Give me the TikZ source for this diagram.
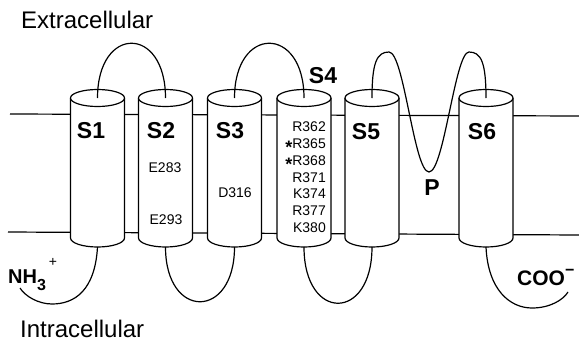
\documentclass[tikz,border=0pt]{standalone}
\usepackage{fontspec}
\setmainfont{Liberation Sans}
\newcommand\tmcyl[2]{%
  \coordinate (#1top) at (#2,98);
  \coordinate (#1bot) at (#2,247);
  \filldraw[cylline] (#2-27,98) -- (#2-27,238) arc[start angle=180, end angle=0, x radius=27, y radius=9] -- (#2+27,98);
  \filldraw[cylline] (#2,98) ellipse[x radius=27, y radius=8.5];
}
\newcommand\resstar{\raisebox{-5.5pt}{\fontsize{18}{18}\selectfont\bfseries *}}
\begin{document}
\begin{tikzpicture}[x=1pt,y=-1pt,
  memline/.style={line width=1.2pt},
  loopline/.style={line width=1.2pt},
  cylline/.style={line width=1.2pt, fill=white},
  seglabel/.style={font=\fontsize{23}{23}\selectfont\bfseries, anchor=base, inner sep=0pt},
  reslabel/.style={font=\fontsize{14}{14}\selectfont, anchor=base, inner sep=0pt},
  rlabel/.style={font=\fontsize{14}{14}\selectfont, anchor=base east, inner sep=0pt},
  sidelabel/.style={font=\fontsize{24}{24}\selectfont, anchor=base west, inner sep=0pt},
  termlabel/.style={font=\bfseries, anchor=base west, inner sep=0pt}]
\useasboundingbox (0,0) rectangle (579,343);
% membrane
\coordinate (mtl) at (10,114);
\coordinate (mtr) at (579,116);
\coordinate (mbl) at (8,232);
\coordinate (mbr) at (579,235);
\draw[memline] (mtl) -- (mtr);
\draw[memline] (mbl) -- (mbr);
% cylinders
\tmcyl{s1}{97.5}
\tmcyl{s2}{165.5}
\tmcyl{s3}{234.5}
\tmcyl{s4}{304}
\tmcyl{s5}{372}
\tmcyl{s6}{486}
% extracellular loops
\draw[loopline] (s1top) .. controls (97.5,25) and (165.5,25) .. (s2top);
\draw[loopline] (s3top) .. controls (234.5,25) and (304,25) .. (s4top);
\draw[loopline] (s5top) .. controls (372,62) and (377,52) .. (389,52)
  .. controls (404,52) and (414,172) .. (429,172)
  .. controls (444,172) and (455,52) .. (469,52)
  .. controls (481,52) and (486,62) .. (s6top);
% intracellular loops
\draw[loopline] (s2bot) .. controls (165.5,320) and (234.5,320) .. (s3bot);
\draw[loopline] (s4bot) .. controls (304,322) and (372,322) .. (s5bot);
% termini
\coordinate (nend) at (20,288);
\coordinate (cend) at (568,292);
\draw[loopline] (s1bot) .. controls (95,290) and (75,304) .. (52,304)
  .. controls (38,304) and (25,296) .. (nend);
\draw[loopline] (s6bot) .. controls (488,290) and (510,308) .. (532,308)
  .. controls (550,308) and (563,300) .. (cend);
% labels
\node[sidelabel] (extra) at (21,28) {Extracellular};
\node[sidelabel] (intra) at (20,337) {Intracellular};
\node[seglabel] (l1) at (91,138) {S1};
\node[seglabel] (l2) at (161,138) {S2};
\node[seglabel] (l3) at (230,138) {S3};
\node[seglabel] (l4) at (323,83) {S4};
\node[seglabel] (l5) at (366,139) {S5};
\node[seglabel] (l6) at (482,139) {S6};
\node[seglabel] (lp) at (432,195) {P};
\node[reslabel] (e283) at (165,172) {E283};
\node[reslabel] (e293) at (166,224) {E293};
\node[reslabel] (d316) at (235,197) {D316};
\node[rlabel] (r362) at (326,131) {R362};
\node[rlabel] (r365) at (326,148) {\resstar R365};
\node[rlabel] (r368) at (326,165) {\resstar R368};
\node[rlabel] (r371) at (326,182) {R371};
\node[rlabel] (k374) at (326,198) {K374};
\node[rlabel] (r377) at (326,215) {R377};
\node[rlabel] (k380) at (326,232) {K380};
\node[termlabel] (nh3) at (8,283) {\fontsize{20}{20}\selectfont NH\raisebox{-7pt}{\fontsize{16}{16}\selectfont 3}\hspace{3pt}\raisebox{17pt}{\fontsize{14}{14}\selectfont\mdseries +}};
\node[termlabel] (coo) at (517,285) {\fontsize{21}{21}\selectfont COO\raisebox{10pt}{\fontsize{16}{16}\selectfont −}};
\end{tikzpicture}
\end{document}
